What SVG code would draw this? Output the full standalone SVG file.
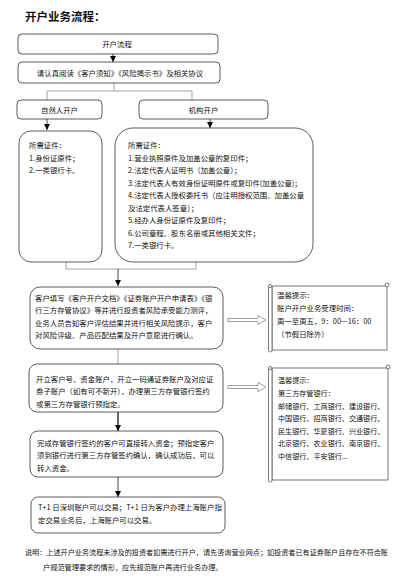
<svg xmlns="http://www.w3.org/2000/svg" width="400" height="587" viewBox="0 0 400 587">
<defs>
<marker id="ah" viewBox="0 0 6 6" refX="6" refY="3" markerWidth="6" markerHeight="6" markerUnits="userSpaceOnUse" orient="auto"><path d="M0,0 L6,3 L0,6 Z" fill="#000"/></marker>
<style>
.t{font-family:"Noto Sans CJK SC","Liberation Sans",sans-serif;font-size:7.4px;fill:#111}
.c{text-anchor:middle}
.b{fill:#fff;stroke:#333;stroke-width:0.8}
.ln{fill:none;stroke:#999;stroke-width:0.9}
.ar{fill:none;stroke:#333;stroke-width:0.9;marker-end:url(#ah)}
.blk{fill:#fff;stroke:#777;stroke-width:0.7}
.sc{fill:#fff;stroke:#555;stroke-width:0.8}
</style>
</defs>
<rect width="400" height="587" fill="#fff"/>
<text x="25" y="21" style="font-family:'Noto Sans CJK SC',sans-serif;font-size:11.5px;font-weight:bold;fill:#111">开户业务流程：</text>

<g id="connectors">
<line class="ar" x1="113" y1="54" x2="113" y2="62"/>
<polyline class="ln" points="114,83 114,91"/>
<polyline class="ln" points="47,100 47,91 192,91 192,100"/>
<line class="ar" x1="47" y1="119" x2="47" y2="130"/>
<line class="ar" x1="210" y1="119" x2="210" y2="128"/>
<polyline class="ln" points="66,262 66,269 196,269 196,262"/>
<line class="ar" x1="118" y1="269" x2="118" y2="286"/>
<line class="ln" x1="118" y1="349" x2="118" y2="364"/>
<line class="ar" x1="118" y1="412" x2="118" y2="431" style="stroke:#000;stroke-width:1.2"/>
<line class="ar" x1="118" y1="477" x2="118" y2="497"/>
<path class="blk" d="M228,318.5 H258 V315.5 L266,320 L258,324.5 V321.5 H228 Z"/>
<path class="blk" d="M228,385.5 H258 V382.5 L266,387 L258,391.5 V388.5 H228 Z"/>
</g>

<g id="n1"><rect class="b" x="18" y="34" width="200" height="20" rx="4"/><text class="t c" x="117" y="47">开户流程</text></g>
<g id="n2"><rect class="b" x="18" y="62" width="202" height="21" rx="4"/><text class="t c" x="120" y="75.5">请认真阅读《客户须知》《风险揭示书》及相关协议</text></g>
<g id="n3"><rect class="b" x="17" y="100" width="85" height="19" rx="4"/><text class="t c" x="59.5" y="112.5">自然人开户</text></g>
<g id="n4"><rect class="b" x="139" y="100" width="129" height="19" rx="4"/><text class="t c" x="203.5" y="112.5">机构开户</text></g>
<g id="n5"><rect class="b" x="19" y="131" width="83" height="131" rx="12"/>
<text class="t" x="29" y="148">所需证件：</text>
<text class="t" x="29" y="160.5">1.身份证原件；</text>
<text class="t" x="29" y="173">2.一类银行卡。</text></g>
<g id="n6"><rect class="b" x="115" y="128" width="198" height="134" rx="18"/>
<text class="t" x="128" y="148">所需证件：</text>
<text class="t" x="128" y="160.5">1.营业执照原件及加盖公章的复印件；</text>
<text class="t" x="128" y="173">2.法定代表人证明书（加盖公章）；</text>
<text class="t" x="128" y="185.5">3.法定代表人有效身份证明原件或复印件(加盖公章)；</text>
<text class="t" x="128" y="198">4.法定代表人授权委托书（应注明授权范围、加盖公章</text>
<text class="t" x="128" y="210.5">及法定代表人签章）；</text>
<text class="t" x="128" y="223">5.经办人身份证原件及复印件；</text>
<text class="t" x="128" y="235.5">6.公司章程、股东名册或其他相关文件；</text>
<text class="t" x="128" y="248">7.一类银行卡。</text></g>
<g id="n7"><rect class="b" x="30" y="287" width="193" height="62" rx="10"/>
<text class="t" x="35" y="300.5">客户填写《客户开户文档》《证券账户开户申请表》《银</text>
<text class="t" x="35" y="313">行三方存管协议》等并进行投资者风险承受能力测评，</text>
<text class="t" x="35" y="325.5">业务人员告知客户评估结果并进行相关风险提示，客户</text>
<text class="t" x="35" y="338">对风险评级、产品匹配结果及开户意愿进行确认。</text></g>
<g id="n8"><rect class="b" x="29" y="364" width="194" height="48" rx="8"/>
<text class="t" x="36" y="381.5">开立客户号、资金账户，开立一码通证券账户及对应证</text>
<text class="t" x="36" y="394">券子账户（如有可不新开），办理第三方存管银行签约</text>
<text class="t" x="36" y="406.5">或第三方存管银行预指定。</text></g>
<g id="n9"><rect class="b" x="30" y="431" width="193" height="46" rx="8"/>
<text class="t" x="37" y="445.5">完成存管银行签约的客户可直接转入资金；预指定客户</text>
<text class="t" x="37" y="458">须到银行进行第三方存管签约确认，确认成功后，可以</text>
<text class="t" x="37" y="470.5">转入资金。</text></g>
<g id="n10"><rect class="b" x="31" y="497" width="194" height="36" rx="7"/>
<text class="t" x="38" y="510">T+1 日深圳账户可以交易；T+1 日为客户办理上海账户指</text>
<text class="t" x="38" y="522.5">定交易业务后，上海账户可以交易。</text></g>

<g id="n11">
<rect class="sc" x="272" y="286" width="115" height="64"/>
<rect class="sc" x="268.5" y="286" width="3.5" height="66" rx="1.75"/>
<circle class="sc" cx="387" cy="285" r="2"/>
<circle class="sc" cx="270.2" cy="286" r="1.6"/>
<text class="t" x="277" y="298">温馨提示：</text>
<text class="t" x="277" y="311">账户开户业务受理时间：</text>
<text class="t" x="277" y="324">周一至周五，9：00—16：00</text>
<text class="t" x="277" y="337">（节假日除外）</text></g>
<g id="n12">
<rect class="sc" x="272" y="368" width="116" height="112"/>
<rect class="sc" x="268.5" y="368" width="3.5" height="114" rx="1.75"/>
<circle class="sc" cx="388" cy="367" r="2"/>
<circle class="sc" cx="270.2" cy="368" r="1.6"/>
<text class="t" style="font-size:7.1px" x="278" y="382.5">温馨提示：</text>
<text class="t" style="font-size:7.1px" x="278" y="395.5">第三方存管银行：</text>
<text class="t" style="font-size:7.1px" x="278" y="408.5">邮储银行、工商银行、建设银行、</text>
<text class="t" style="font-size:7.1px" x="278" y="421">中国银行、招商银行、交通银行、</text>
<text class="t" style="font-size:7.1px" x="278" y="433.5">民生银行、华夏银行、兴业银行、</text>
<text class="t" style="font-size:7.1px" x="278" y="446">北京银行、农业银行、南京银行、</text>
<text class="t" style="font-size:7.1px" x="278" y="459">中信银行、平安银行...</text></g>

<text class="t" style="font-size:7.2px" x="25" y="555" textLength="363" lengthAdjust="spacingAndGlyphs">说明：上述开户业务流程未涉及的投资者如需进行开户，请先咨询营业网点；如投资者已有证券账户且存在不符合账</text>
<text class="t" style="font-size:7.2px" x="43" y="569.5">户规范管理要求的情形，应先规范账户再进行业务办理。</text>
</svg>
